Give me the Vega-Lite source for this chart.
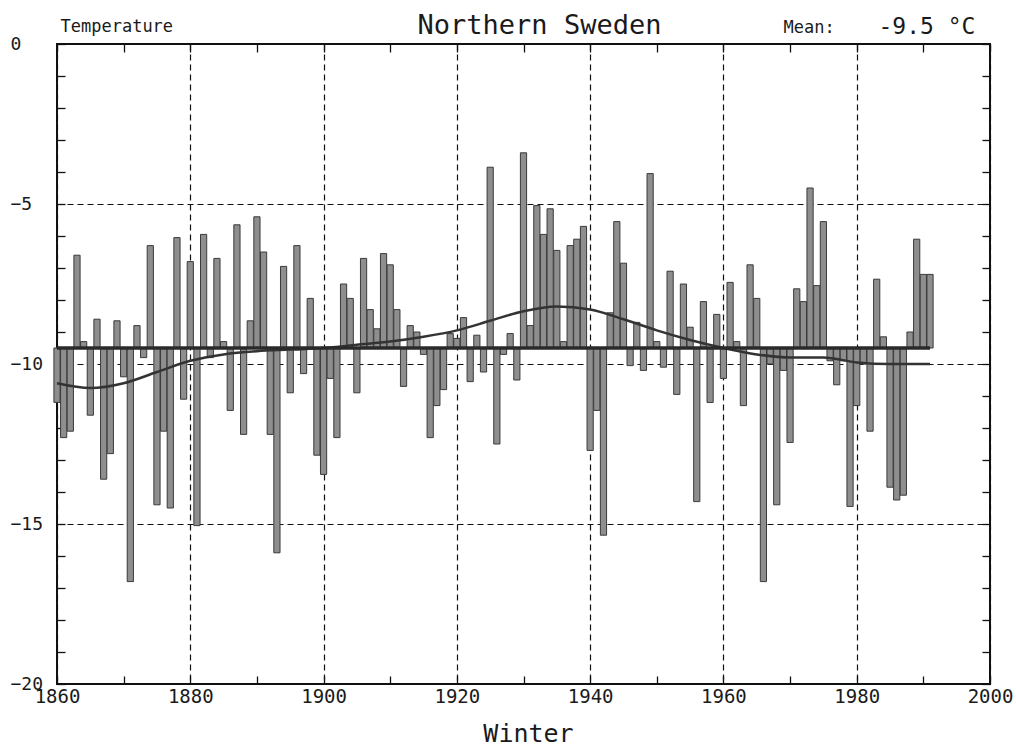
{
  "$schema": "https://vega.github.io/schema/vega-lite/v6.json",
  "width": 933,
  "height": 640,
  "autosize": {"type": "none"},
  "padding": {"left": 57, "top": 44, "right": 26, "bottom": 63},
  "background": "white",
  "config": {
    "view": {"stroke": "#111", "strokeWidth": 2},
    "font": "DejaVu Sans Mono",
    "axis": {"labelFont": "DejaVu Sans Mono", "titleFont": "DejaVu Sans Mono", "labelColor": "#1a1a1a", "titleColor": "#1a1a1a", "titleFontWeight": "normal"}
  },
  "datasets": {
    "temps": [
      {"year": 1860, "temp": -11.2}, {"year": 1861, "temp": -12.3}, {"year": 1862, "temp": -12.1}, {"year": 1863, "temp": -6.6},
      {"year": 1864, "temp": -9.3}, {"year": 1865, "temp": -11.6}, {"year": 1866, "temp": -8.6}, {"year": 1867, "temp": -13.6},
      {"year": 1868, "temp": -12.8}, {"year": 1869, "temp": -8.65}, {"year": 1870, "temp": -10.4}, {"year": 1871, "temp": -16.8},
      {"year": 1872, "temp": -8.8}, {"year": 1873, "temp": -9.8}, {"year": 1874, "temp": -6.3}, {"year": 1875, "temp": -14.4},
      {"year": 1876, "temp": -12.1}, {"year": 1877, "temp": -14.5}, {"year": 1878, "temp": -6.05}, {"year": 1879, "temp": -11.1},
      {"year": 1880, "temp": -6.8}, {"year": 1881, "temp": -15.05}, {"year": 1882, "temp": -5.95}, {"year": 1883, "temp": -9.8},
      {"year": 1884, "temp": -6.7}, {"year": 1885, "temp": -9.3}, {"year": 1886, "temp": -11.45}, {"year": 1887, "temp": -5.65},
      {"year": 1888, "temp": -12.2}, {"year": 1889, "temp": -8.65}, {"year": 1890, "temp": -5.4}, {"year": 1891, "temp": -6.5},
      {"year": 1892, "temp": -12.2}, {"year": 1893, "temp": -15.9}, {"year": 1894, "temp": -6.95}, {"year": 1895, "temp": -10.9},
      {"year": 1896, "temp": -6.3}, {"year": 1897, "temp": -10.3}, {"year": 1898, "temp": -7.95}, {"year": 1899, "temp": -12.85},
      {"year": 1900, "temp": -13.45}, {"year": 1901, "temp": -10.45}, {"year": 1902, "temp": -12.3}, {"year": 1903, "temp": -7.5},
      {"year": 1904, "temp": -7.95}, {"year": 1905, "temp": -10.9}, {"year": 1906, "temp": -6.7}, {"year": 1907, "temp": -8.3},
      {"year": 1908, "temp": -8.9}, {"year": 1909, "temp": -6.55}, {"year": 1910, "temp": -6.9}, {"year": 1911, "temp": -8.3},
      {"year": 1912, "temp": -10.7}, {"year": 1913, "temp": -8.8}, {"year": 1914, "temp": -9.0}, {"year": 1915, "temp": -9.7},
      {"year": 1916, "temp": -12.3}, {"year": 1917, "temp": -11.3}, {"year": 1918, "temp": -10.8}, {"year": 1919, "temp": -9.05},
      {"year": 1920, "temp": -9.2}, {"year": 1921, "temp": -8.55}, {"year": 1922, "temp": -10.55}, {"year": 1923, "temp": -9.1},
      {"year": 1924, "temp": -10.25}, {"year": 1925, "temp": -3.85}, {"year": 1926, "temp": -12.5}, {"year": 1927, "temp": -9.7},
      {"year": 1928, "temp": -9.05}, {"year": 1929, "temp": -10.5}, {"year": 1930, "temp": -3.4}, {"year": 1931, "temp": -8.8},
      {"year": 1932, "temp": -5.05}, {"year": 1933, "temp": -5.95}, {"year": 1934, "temp": -5.15}, {"year": 1935, "temp": -6.45},
      {"year": 1936, "temp": -9.3}, {"year": 1937, "temp": -6.3}, {"year": 1938, "temp": -6.1}, {"year": 1939, "temp": -5.7},
      {"year": 1940, "temp": -12.7}, {"year": 1941, "temp": -11.45}, {"year": 1942, "temp": -15.35}, {"year": 1943, "temp": -8.4},
      {"year": 1944, "temp": -5.55}, {"year": 1945, "temp": -6.85}, {"year": 1946, "temp": -10.05}, {"year": 1947, "temp": -8.7},
      {"year": 1948, "temp": -10.2}, {"year": 1949, "temp": -4.05}, {"year": 1950, "temp": -9.3}, {"year": 1951, "temp": -10.1},
      {"year": 1952, "temp": -7.1}, {"year": 1953, "temp": -10.95}, {"year": 1954, "temp": -7.5}, {"year": 1955, "temp": -8.85},
      {"year": 1956, "temp": -14.3}, {"year": 1957, "temp": -8.05}, {"year": 1958, "temp": -11.2}, {"year": 1959, "temp": -8.45},
      {"year": 1960, "temp": -10.45}, {"year": 1961, "temp": -7.45}, {"year": 1962, "temp": -9.3}, {"year": 1963, "temp": -11.3},
      {"year": 1964, "temp": -6.9}, {"year": 1965, "temp": -7.95}, {"year": 1966, "temp": -16.8}, {"year": 1967, "temp": -10.0},
      {"year": 1968, "temp": -14.4}, {"year": 1969, "temp": -10.2}, {"year": 1970, "temp": -12.45}, {"year": 1971, "temp": -7.65},
      {"year": 1972, "temp": -8.05}, {"year": 1973, "temp": -4.5}, {"year": 1974, "temp": -7.55}, {"year": 1975, "temp": -5.55},
      {"year": 1976, "temp": -9.9}, {"year": 1977, "temp": -10.65}, {"year": 1978, "temp": -9.9}, {"year": 1979, "temp": -14.45},
      {"year": 1980, "temp": -11.3}, {"year": 1981, "temp": -10.0}, {"year": 1982, "temp": -12.1}, {"year": 1983, "temp": -7.35},
      {"year": 1984, "temp": -9.15}, {"year": 1985, "temp": -13.85}, {"year": 1986, "temp": -14.25}, {"year": 1987, "temp": -14.1},
      {"year": 1988, "temp": -9.0}, {"year": 1989, "temp": -6.1}, {"year": 1990, "temp": -7.2}, {"year": 1991, "temp": -7.2}
    ],
    "smooth": [
      {"year": 1860, "temp": -10.6}, {"year": 1865, "temp": -10.75}, {"year": 1870, "temp": -10.6}, {"year": 1875, "temp": -10.25},
      {"year": 1880, "temp": -9.9}, {"year": 1885, "temp": -9.7}, {"year": 1890, "temp": -9.6}, {"year": 1895, "temp": -9.55},
      {"year": 1900, "temp": -9.5}, {"year": 1905, "temp": -9.4}, {"year": 1910, "temp": -9.3}, {"year": 1915, "temp": -9.15},
      {"year": 1920, "temp": -8.95}, {"year": 1925, "temp": -8.65}, {"year": 1930, "temp": -8.35}, {"year": 1935, "temp": -8.2},
      {"year": 1940, "temp": -8.3}, {"year": 1945, "temp": -8.6}, {"year": 1950, "temp": -8.95}, {"year": 1955, "temp": -9.25},
      {"year": 1960, "temp": -9.5}, {"year": 1965, "temp": -9.7}, {"year": 1970, "temp": -9.8}, {"year": 1975, "temp": -9.8},
      {"year": 1980, "temp": -9.95}, {"year": 1985, "temp": -10.0}, {"year": 1991, "temp": -10.0}
    ]
  },
  "layer": [
    {
      "data": {"name": "temps"},
      "mark": {"type": "bar", "width": 6.2, "fill": "#8e8e8e", "stroke": "#3a3a3a", "strokeWidth": 1},
      "encoding": {
        "x": {
          "field": "year", "type": "quantitative",
          "scale": {"domain": [1860, 2000], "nice": false, "zero": false, "padding": 0},
          "axis": {
            "values": [1860, 1880, 1900, 1920, 1940, 1960, 1980, 2000],
            "format": "d", "ticks": false, "domain": false,
            "grid": true, "gridColor": "#111", "gridDash": [6, 4], "gridWidth": 1.2,
            "labelFontSize": 19, "labelPadding": 3, "labelFlush": false, "labelOverlap": false,
            "title": "Winter", "titleFontSize": 25, "titleX": 471, "titleY": 57,
            "titleAlign": "center", "titleBaseline": "alphabetic"
          }
        },
        "y": {
          "field": "temp", "type": "quantitative",
          "scale": {"domain": [-20, 0], "nice": false, "zero": false, "padding": 0},
          "axis": {
            "values": [0, -5, -10, -15, -20],
            "ticks": false, "domain": false,
            "grid": true, "gridColor": "#111", "gridDash": [6, 4], "gridWidth": 1.2,
            "labelFontSize": 18, "labelAlign": "left", "labelPadding": 47, "labelBaseline": "middle",
            "title": "Temperature", "titleFontSize": 17, "titleAngle": 0, "titleX": 3, "titleY": -13,
            "titleAlign": "left", "titleBaseline": "alphabetic"
          }
        },
        "y2": {"datum": -9.5}
      }
    },
    {
      "data": {"name": "smooth"},
      "mark": {"type": "line", "interpolate": "monotone", "stroke": "#333", "strokeWidth": 2.5},
      "encoding": {
        "x": {
          "field": "year", "type": "quantitative",
          "scale": {"domain": [1860, 2000], "nice": false, "zero": false, "padding": 0},
          "axis": {
            "orient": "bottom", "offset": -8,
            "values": [1860, 1870, 1880, 1890, 1900, 1910, 1920, 1930, 1940, 1950, 1960, 1970, 1980, 1990, 2000],
            "labels": false, "domain": false, "grid": false,
            "ticks": true, "tickSize": 8, "tickColor": "#111", "tickWidth": 1.3,
            "title": "Northern Sweden", "titleFontSize": 27, "titleX": 482, "titleY": -643,
            "titleAlign": "center", "titleBaseline": "alphabetic"
          }
        },
        "y": {
          "field": "temp", "type": "quantitative",
          "scale": {"domain": [-20, 0], "nice": false, "zero": false, "padding": 0},
          "axis": {
            "orient": "left", "offset": -8,
            "values": [0, -1, -2, -3, -4, -5, -6, -7, -8, -9, -10, -11, -12, -13, -14, -15, -16, -17, -18, -19, -20],
            "labels": false, "domain": false, "grid": false,
            "ticks": true, "tickSize": 8, "tickColor": "#111", "tickWidth": 1.3,
            "title": "Mean:", "titleFontSize": 17, "titleAngle": 0, "titleX": 718, "titleY": -12,
            "titleAlign": "left", "titleBaseline": "alphabetic"
          }
        }
      }
    },
    {
      "data": {"name": "temps"},
      "mark": {"type": "rule", "stroke": "#2a2a2a", "strokeWidth": 3.5},
      "encoding": {
        "x": {
          "field": "year", "type": "quantitative", "aggregate": "min",
          "scale": {"domain": [1860, 2000], "nice": false, "zero": false, "padding": 0},
          "axis": {
            "orient": "top", "offset": -8,
            "values": [1860, 1870, 1880, 1890, 1900, 1910, 1920, 1930, 1940, 1950, 1960, 1970, 1980, 1990, 2000],
            "labels": false, "domain": false, "grid": false,
            "ticks": true, "tickSize": 8, "tickColor": "#111", "tickWidth": 1.3,
            "title": "-9.5  °C", "titleFontSize": 23, "titleX": 821, "titleY": -19,
            "titleAlign": "left", "titleBaseline": "alphabetic"
          }
        },
        "x2": {"field": "year", "aggregate": "max"},
        "y": {
          "datum": -9.5, "type": "quantitative",
          "scale": {"domain": [-20, 0], "nice": false, "zero": false, "padding": 0},
          "axis": {
            "orient": "right", "offset": -8,
            "values": [0, -1, -2, -3, -4, -5, -6, -7, -8, -9, -10, -11, -12, -13, -14, -15, -16, -17, -18, -19, -20],
            "labels": false, "domain": false, "grid": false,
            "ticks": true, "tickSize": 8, "tickColor": "#111", "tickWidth": 1.3,
            "title": null
          }
        }
      }
    }
  ],
  "resolve": {"axis": {"x": "independent", "y": "independent"}}
}
